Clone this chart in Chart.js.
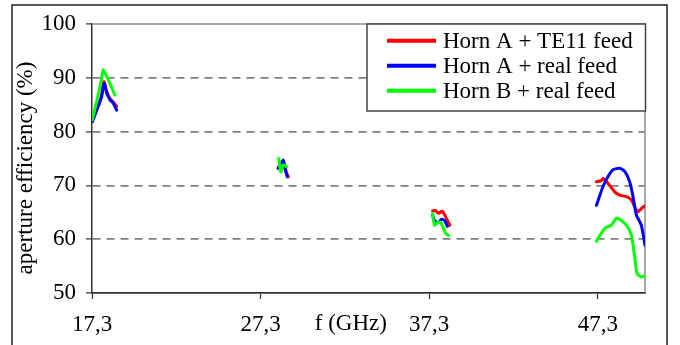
<!DOCTYPE html>
<html>
<head>
<meta charset="utf-8">
<script src="https://cdn.jsdelivr.net/npm/chart.js@4/dist/chart.umd.min.js"></script>
<style>
  html, body { margin: 0; padding: 0; background: #fff; }
  #wrap { width: 680px; height: 345px; position: relative; }
</style>
</head>
<body>
<div id="wrap"><canvas id="chart" width="680" height="345"></canvas></div>
<script>
// frequency (GHz) / aperture efficiency (%), null = gap between bands
const hornATe11Freq = [17.32, 17.67, 17.87, 18.01, 18.17, 18.37, 18.56, 18.76, null,
  28.34, 28.64, 28.84, 28.94, null,
  37.5, 37.68, 37.86, 38.07, 38.27, 38.53, null,
  47.22, 47.51, 47.61, 47.9, 48.3, 48.6, 49.0, 49.29, 49.49, 49.68, 49.88, 50.1]
const hornATe11Eff = [81.9, 84.8, 86.7, 89.3, 87.5, 86.1, 85.5, 84.7, null,
  73.2, 74.6, 72.3, 71.6, null,
  65.3, 65.3, 64.8, 65.2, 64.2, 62.6, null,
  70.7, 70.9, 71.3, 70.4, 68.8, 68.2, 67.9, 67.3, 66.0, 65.1, 65.7, 66.2]

const hornARealFreq = [17.32, 17.67, 17.87, 18.01, 18.17, 18.37, 18.56, 18.76, null,
  28.34, 28.64, 28.74, 28.88, null,
  37.5, 37.61, 37.81, 38.02, 38.2, 38.38, null,
  47.22, 47.61, 47.9, 48.2, 48.6, 48.9, 49.19, 49.39, 49.59, 49.88, 50.1]
const hornARealEff = [81.9, 84.7, 86.5, 89.0, 87.2, 85.9, 85.3, 84.0, null,
  73.2, 74.7, 73.2, 71.6, null,
  64.5, 63.5, 63.0, 63.7, 63.5, 62.4, null,
  66.3, 69.8, 71.6, 72.9, 73.2, 72.6, 70.7, 67.9, 64.5, 62.6, 58.9]

const hornBRealFreq = [17.32, 17.58, 17.82, 17.97, 18.27, 18.66, null,
  28.38, 28.5, 28.64, 28.84, null,
  37.5, 37.61, 37.76, 37.94, 38.12, 38.27, 38.45, null,
  47.22, 47.4, 47.71, 47.95, 48.11, 48.4, 48.6, 49.0, 49.29, 49.49, 49.63, 49.88, 50.1]
const hornBRealEff = [82.2, 85.6, 89.0, 91.5, 89.6, 86.8, null,
  75.0, 72.5, 73.8, 73.5, null,
  64.8, 62.6, 63.0, 63.2, 62.3, 61.1, 60.7, null,
  59.6, 60.6, 62.0, 62.4, 62.6, 63.9, 63.7, 62.6, 60.8, 56.7, 53.6, 53.0, 53.2]

const seriesLabels = ['Horn A + TE11 feed', 'Horn A + real feed', 'Horn B + real feed']
const seriesColors = ['#ff0000', '#0000ff', '#00ff00']
const xTickValues = [17.3, 27.3, 37.3, 47.3]
const xMin = 17.3
const xMax = 50.1
const yMin = 50
const yMax = 100

const FONT = '"Liberation Serif", "Times New Roman", serif'

function toPoints(freq, eff) {
  return freq.map((f, i) => ({ x: f, y: eff[i] }))
}

const frame = { // outer frame, plot border, axis texts, legend box
  id: 'frame',
  beforeDraw(chart) {
    const ctx = chart.ctx
    ctx.save()
    ctx.fillStyle = '#fff'
    ctx.fillRect(0, 0, chart.width, chart.height)
    ctx.strokeStyle = '#222'
    ctx.lineWidth = 1.5
    ctx.strokeRect(12, 5, 655, 360)
    ctx.restore()
  },
  beforeDatasetsDraw(chart) {
    const { ctx, chartArea: a } = chart
    ctx.save()
    ctx.strokeStyle = '#8c8c8c'
    ctx.lineWidth = 1.5
    ctx.beginPath()
    ctx.moveTo(a.left, a.top)
    ctx.lineTo(a.right, a.top)
    ctx.lineTo(a.right, a.bottom)
    ctx.stroke()
    ctx.restore()
  },
  afterDatasetsDraw(chart) {
    const ctx = chart.ctx
    const x = chart.scales.x
    ctx.save()
    ctx.fillStyle = '#000'
    ctx.font = '23px ' + FONT

    // x title sits on the tick label line
    ctx.textAlign = 'center'
    ctx.textBaseline = 'middle'
    ctx.fillText('f (GHz)', x.getPixelForValue(32.65), 324)

    // y title
    ctx.save()
    ctx.translate(26, 168)
    ctx.rotate(-Math.PI / 2)
    ctx.fillText('aperture efficiency (%)', 0, 0)
    ctx.restore()

    // legend
    const box = { l: 367, t: 24, r: 645.5, b: 111 }
    ctx.fillStyle = '#fff'
    ctx.fillRect(box.l, box.t, box.r - box.l, box.b - box.t)
    ctx.strokeStyle = '#444'
    ctx.lineWidth = 1.5
    ctx.strokeRect(box.l, box.t, box.r - box.l, box.b - box.t)
    ctx.textAlign = 'left'
    chart.data.datasets.forEach((ds, i) => {
      const y = 40.7 + i * 25
      ctx.strokeStyle = ds.borderColor
      ctx.lineWidth = 4
      ctx.beginPath()
      ctx.moveTo(387, y)
      ctx.lineTo(436, y)
      ctx.stroke()
      ctx.fillStyle = '#000'
      ctx.fillText(ds.label, 443, y + 1)
    })
    ctx.restore()
  }
}

new Chart(document.getElementById('chart'), {
  type: 'line',
  data: {
    datasets: [ // green on top, red underneath
      { label: seriesLabels[0], data: toPoints(hornATe11Freq, hornATe11Eff), borderColor: seriesColors[0], order: 3 },
      { label: seriesLabels[1], data: toPoints(hornARealFreq, hornARealEff), borderColor: seriesColors[1], order: 2 },
      { label: seriesLabels[2], data: toPoints(hornBRealFreq, hornBRealEff), borderColor: seriesColors[2], order: 1 }
    ]
  },
  options: {
    responsive: false,
    animation: false,
    layout: { padding: { left: 0, right: 35, top: 24, bottom: 0 } },
    elements: {
      line: { borderWidth: 3, tension: 0.2, fill: false, borderJoinStyle: 'round', borderCapStyle: 'round' },
      point: { radius: 0, hoverRadius: 0 }
    },
    spanGaps: false,
    plugins: {
      legend: { display: false },
      tooltip: { enabled: false }
    },
    scales: {
      x: {
        type: 'linear',
        min: xMin,
        max: xMax,
        afterBuildTicks: scale => { scale.ticks = xTickValues.map(v => ({ value: v })) },
        afterFit: scale => { scale.height = 52 },
        ticks: {
          autoSkip: false,
          maxRotation: 0,
          padding: 12,
          color: '#000',
          font: { family: FONT, size: 23 },
          callback: v => v.toFixed(1).replace('.', ',')
        },
        grid: { display: true, drawOnChartArea: false, drawTicks: true, tickLength: 6, tickColor: '#333', tickWidth: 1.2 },
        border: { display: true, color: '#333', width: 1.8 }
      },
      y: {
        min: yMin,
        max: yMax,
        afterFit: scale => { scale.width = 92 },
        ticks: {
          stepSize: 10,
          padding: 10,
          color: '#000',
          font: { family: FONT, size: 23 }
        },
        grid: {
          color: c => (c.tick && (c.tick.value === yMin || c.tick.value === yMax)) ? 'rgba(0,0,0,0)' : '#808080',
          lineWidth: 1.8,
          tickLength: 6,
          tickColor: '#333',
          tickWidth: 1.2
        },
        border: { display: true, color: '#333', width: 1.5, dash: [8, 6] }
      }
    }
  },
  plugins: [frame]
})
</script>
</body>
</html>
